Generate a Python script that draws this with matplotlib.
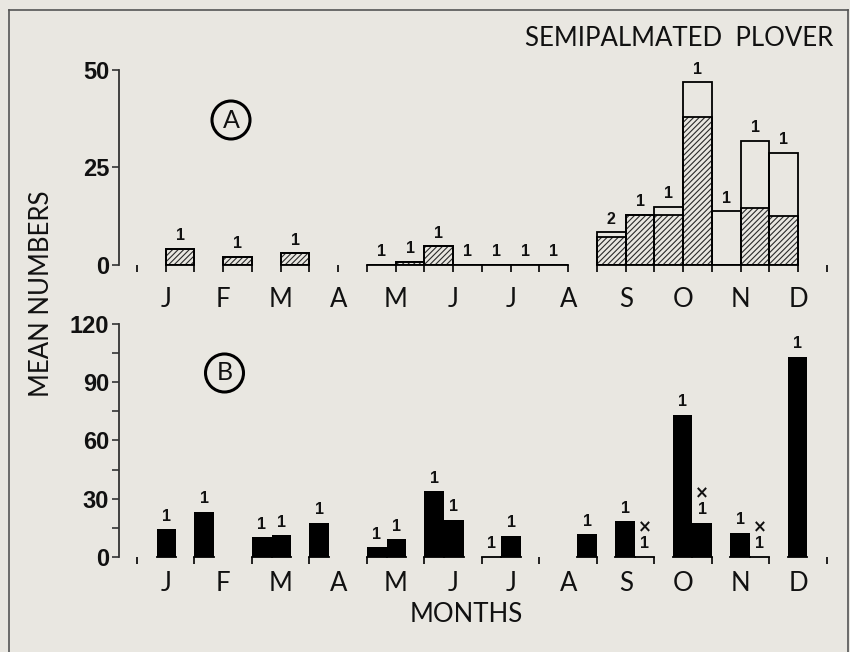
import numpy as np
import matplotlib.pyplot as plt
from matplotlib.patches import Circle
from matplotlib.lines import Line2D

nan = np.nan
months = ['J', 'F', 'M', 'A', 'M', 'J', 'J', 'A', 'S', 'O', 'N', 'D']

# half-month periods: 0 = 1-15 Jan, 1 = 16-31 Jan, ... ; nan = not sampled
a_total = [nan, 4.2, nan, 2.1, nan, 3.0, nan, nan,
           0, 0.8, 4.8, 0, 0, 0, 0, nan,
           8.4, 12.8, 14.9, 46.8, 13.8, 31.8, 28.8, nan]
a_shaded = [nan, 4.2, nan, 2.1, nan, 3.0, nan, nan,
            0, 0.8, 4.8, 0, 0, 0, 0, nan,
            7.1, 12.8, 12.8, 38.0, 0, 14.6, 12.6, nan]
a_n = ['', '1', '', '1', '', '1', '', '',
       '1', '1', '1', '1', '1', '1', '1', '',
       '2', '1', '1', '1', '1', '1', '1', '']

b_mean = [nan, 14.2, 23.4, nan, 10.1, 11.1, 17.6, nan,
          5.1, 9.1, 33.8, 19.3, 0, 10.8, nan, 11.6,
          18.5, 0, 73.2, 17.6, 12.5, 0, 103, nan]
b_n = ['', '1', '1', '', '1', '1', '1', '',
       '1', '1', '1', '1', '1', '1', '', '1',
       '1', '1', '1', '1', '1', '1', '1', '']
b_cross = [17, 19, 21]

a_yticks = [0, 25, 50]
b_yticks = [0, 30, 60, 90, 120]

bg = '#e9e7e1'
ink = '#111111'
num_font = 'Liberation Sans'
txt_font = 'Lato'
txt_size = 18.5

plt.rcParams['hatch.linewidth'] = 0.8

fig = plt.figure(figsize=(8.5, 6.52), dpi=100, facecolor=bg)
axA = fig.add_axes([0.14, 0.5936, 0.8494, 0.2991])
axB = fig.add_axes([0.14, 0.1457, 0.8494, 0.3574])


def setup(ax, ymax, ticks, minor=None):
    ax.set_facecolor('none')
    ax.set_xlim(-0.626, 24.49)
    ax.set_ylim(0, ymax)
    for s in ['top', 'right', 'bottom']:
        ax.spines[s].set_visible(False)
    ax.spines['left'].set_linewidth(1.3)
    ax.spines['left'].set_color('#333333')
    ax.set_xticks([])
    ax.set_yticks(ticks)
    if minor is not None:
        ax.set_yticks(minor, minor=True)
    ax.tick_params(axis='y', which='both', direction='out', length=5, width=1.2,
                   color='#333333', pad=2, labelsize=17, labelcolor=ink)
    for lab in ax.get_yticklabels():
        lab.set_fontweight('bold')
        lab.set_family(num_font)


def count_label(ax, x, y, s, dy=4):
    ax.annotate(s, (x, y), xytext=(0, dy), textcoords='offset points',
                ha='center', va='bottom', fontsize=11.5, fontweight='bold',
                family=num_font, color=ink, annotation_clip=False)


def month_labels(ax, dy):
    for m, lab in enumerate(months):
        ax.annotate(lab, (2 * m + 1, 0), xytext=(0, dy), textcoords='offset points',
                    ha='center', va='top', fontsize=txt_size, family=txt_font,
                    color=ink, annotation_clip=False)


# ---- A: hatched part and open part stacked
setup(axA, 50, a_yticks)
idx = np.arange(24)
tot = np.array(a_total)
sh = np.array(a_shaded)
have = ~np.isnan(tot)
axA.bar(idx[have], tot[have], width=1, align='edge', facecolor='none',
        edgecolor='black', linewidth=1.3)
axA.bar(idx[have], sh[have], width=1, align='edge', facecolor='none',
        edgecolor='#2a2a2a', hatch='//////', linewidth=0)
axA.bar(idx[have], sh[have], width=1, align='edge', facecolor='none',
        edgecolor='black', linewidth=1.3)
for i in idx[have]:
    count_label(axA, i + 0.5, tot[i], a_n[i])

# baseline only under sampled periods, ticks at their edges
tickx = [0, 7, 24]
start = None
for i in range(25):
    on = i < 24 and have[i]
    if on and start is None:
        start = i
    if not on and start is not None:
        axA.plot([start, i], [0, 0], color='black', lw=1.3, clip_on=False)
        tickx += list(range(start, i + 1))
        start = None
axA.plot(tickx, np.zeros(len(tickx)), ls='none', marker=3, ms=5, mew=1.2,
         color='black', clip_on=False)
month_labels(axA, -16)

# ---- B: solid bars, two per month
setup(axB, 120, b_yticks, minor=[15, 45, 75, 105])
w = 0.68
bm = np.array(b_mean)
for i in range(24):
    if np.isnan(bm[i]):
        continue
    m, h = divmod(i, 2)
    left = 2 * m + h * w if m < 7 else 2 * m + 2 - (2 - h) * w
    axB.bar(left, bm[i], width=w, align='edge', color='black', linewidth=0)
    axB.plot([left, left + w], [0, 0], color='black', lw=1.3, clip_on=False)
    count_label(axB, left + w / 2, bm[i], b_n[i])
    if i in b_cross:
        axB.annotate('×', (left + w / 2, bm[i]), xytext=(0, 15),
                     textcoords='offset points', ha='center', va='bottom',
                     fontsize=12, fontweight='bold', family='DejaVu Sans',
                     color=ink, annotation_clip=False)
bt = np.arange(0, 25, 2)
axB.plot(bt, np.zeros(len(bt)), ls='none', marker=3, ms=5, mew=1.2,
         color='black', clip_on=False)
month_labels(axB, -10)

# panel letters in circles
for (cx, cy), letter in [((231, 120), 'A'), ((224.5, 373), 'B')]:
    fig.patches.append(Circle((cx / 100, (652 - cy) / 100), 0.19, fill=False,
                              edgecolor='black', linewidth=2.2,
                              transform=fig.dpi_scale_trans))
    fig.text(cx / 850, (652 - cy) / 652, letter, ha='center', va='center',
             fontsize=18, family=txt_font, color=ink)

fig.text(833 / 850, 1 - 38 / 652, 'SEMIPALMATED  PLOVER', ha='right', va='center',
         fontsize=txt_size, family=txt_font, color=ink)
fig.text(466 / 850, 1 - 615 / 652, 'MONTHS', ha='center', va='center',
         fontsize=txt_size, family=txt_font, color=ink)
fig.text(42 / 850, 1 - 294 / 652, 'MEAN NUMBERS', ha='center', va='center',
         rotation=90, fontsize=txt_size, family=txt_font, color=ink)

# page frame
top = 1 - 10 / 652
for xs, ys in [([9 / 850, 9 / 850], [0, top]), ([9 / 850, 848 / 850], [top, top]),
               ([848 / 850, 848 / 850], [0, top])]:
    fig.add_artist(Line2D(xs, ys, color='#555555', lw=1.2))

fig.savefig('out.png', dpi=100, facecolor=bg)
